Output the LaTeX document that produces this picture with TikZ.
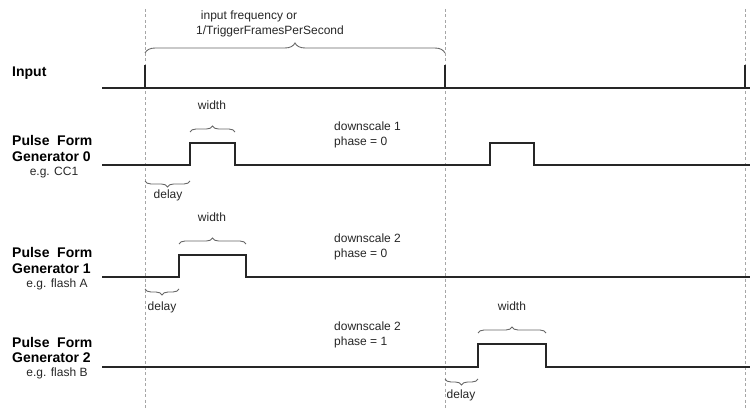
\documentclass[tikz,border=0pt]{standalone}
\usepackage{fontspec}
\setmainfont{Liberation Sans}
\usetikzlibrary{decorations.pathreplacing}
\begin{document}
\begin{tikzpicture}[x=1pt,y=-1pt,
  sig/.style={line width=1.9pt,color=black!85},
  guide/.style={line width=0.8pt,color=black!35,dash pattern=on 3pt off 2.5pt},
  bigbrace/.style={decorate,decoration={brace,amplitude=10pt},line width=0.9pt,color=black!60},
  smallbrace/.style={decorate,decoration={brace,amplitude=6pt},line width=0.9pt,color=black!60},
  txt/.style={inner sep=0pt,font=\fontsize{12}{14}\selectfont,text=black!85},
  lbl/.style={inner sep=0pt,anchor=west,font=\fontsize{14}{16}\bfseries,text=black},
  sub/.style={inner sep=0pt,font=\fontsize{12}{14}\selectfont,text=black!85},
  note/.style={inner sep=0pt,anchor=north west,align=left,font=\fontsize{12}{14.5}\selectfont,text=black!85}]
\useasboundingbox (0,0) rectangle (750,409);
% guide lines
\coordinate (g0t) at (145,9); \coordinate (g0b) at (145,409);
\coordinate (g1t) at (445,9); \coordinate (g1b) at (445,409);
\coordinate (g2t) at (745,9); \coordinate (g2b) at (745,409);
\draw[guide] (g0t) -- (g0b);
\draw[guide] (g1t) -- (g1b);
\draw[guide] (g2t) -- (g2b);
% top brace
\coordinate (bl) at (145,53); \coordinate (br) at (445,53);
\draw[bigbrace] (bl) -- (br);
\node[txt] (f1) at (249,16) {input frequency or};
\node[txt] (f2) at (270,31) {1/TriggerFramesPerSecond};
% Input
\node[lbl] (lin) at (12,73) {Input};
\coordinate (is) at (102,88); \coordinate (ie) at (750,88);
\draw[sig] (is) -- (ie);
\coordinate (s0) at (145,88); \coordinate (s0t) at (145,65);
\coordinate (s1) at (445,88); \coordinate (s1t) at (445,65);
\coordinate (s2) at (745,88); \coordinate (s2t) at (745,65);
\draw[sig] (s0) -- (s0t);
\draw[sig] (s1) -- (s1t);
\draw[sig] (s2) -- (s2t);
% PFG 0
\node[lbl] (p0a) at (12,140) {\makebox[80pt][s]{Pulse Form}};
\node[lbl] (p0b) at (12,157) {Generator 0};
\node[sub] (p0c) at (54,173) {e.g. CC1};
\coordinate (a0) at (102,165); \coordinate (a1) at (190,143); \coordinate (a2) at (235,165);
\coordinate (a3) at (490,143); \coordinate (a4) at (534,165); \coordinate (a5) at (750,165);
\draw[sig] (a0) -| (a1) -| (a2) -| (a3) -| (a4) -- (a5);
\coordinate (w0l) at (190,132); \coordinate (w0r) at (235,132);
\draw[smallbrace] (w0l) -- (w0r);
\node[txt] (w0) at (212,105) {width};
\coordinate (d0l) at (145,181); \coordinate (d0r) at (190,181);
\draw[smallbrace] (d0r) -- (d0l);
\node[txt] (d0) at (168,195) {delay};
\node[note] (n0) at (334,122) {downscale 1\\phase = 0};
% PFG 1
\node[lbl] (p1a) at (12,252) {\makebox[80pt][s]{Pulse Form}};
\node[lbl] (p1b) at (12,269) {Generator 1};
\node[sub] (p1c) at (57,284) {e.g. flash A};
\coordinate (b0) at (102,277); \coordinate (b1) at (179,255); \coordinate (b2) at (246,277);
\coordinate (b3) at (750,277);
\draw[sig] (b0) -| (b1) -| (b2) -- (b3);
\coordinate (w1l) at (179,244); \coordinate (w1r) at (246,244);
\draw[smallbrace] (w1l) -- (w1r);
\node[txt] (w1) at (212,217) {width};
\coordinate (d1l) at (145,289); \coordinate (d1r) at (179,289);
\draw[smallbrace] (d1r) -- (d1l);
\node[txt] (d1) at (162,307) {delay};
\node[note] (n1) at (334,234) {downscale 2\\phase = 0};
% PFG 2
\node[lbl] (p2a) at (12,342) {\makebox[80pt][s]{Pulse Form}};
\node[lbl] (p2b) at (12,358) {Generator 2};
\node[sub] (p2c) at (57,373) {e.g. flash B};
\coordinate (c0) at (102,367); \coordinate (c1) at (478,344); \coordinate (c2) at (546,367);
\coordinate (c3) at (750,367);
\draw[sig] (c0) -| (c1) -| (c2) -- (c3);
\coordinate (w2l) at (478,333); \coordinate (w2r) at (546,333);
\draw[smallbrace] (w2l) -- (w2r);
\node[txt] (w2) at (512,306) {width};
\coordinate (d2l) at (445,379); \coordinate (d2r) at (478,379);
\draw[smallbrace] (d2r) -- (d2l);
\node[txt] (d2) at (461,395) {delay};
\node[note] (n2) at (334,322) {downscale 2\\phase = 1};
\end{tikzpicture}
\end{document}
